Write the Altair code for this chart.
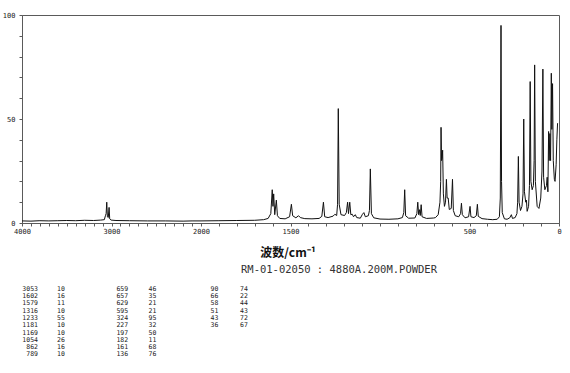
import json
import altair as alt
import pandas as pd

# Raman spectrum trace: Raman shift (cm^-1) and relative intensity
wavenumber = [
    4000, 3900, 3800, 3700, 3600, 3500, 3400, 3300, 3200, 3120, 3080, 3068, 3060, 3053, 3046,
    3036, 3027, 3020, 3005, 2950, 2800, 2600, 2400, 2200, 2100, 2000, 1900, 1800, 1700, 1650,
    1625, 1610, 1602, 1598, 1594, 1588, 1579, 1573, 1560, 1530, 1505, 1495, 1488, 1470, 1455,
    1445, 1420, 1380, 1340, 1325, 1316, 1309, 1290, 1262, 1252, 1242, 1237, 1233, 1228, 1218,
    1198, 1188, 1181, 1176, 1169, 1163, 1155, 1148, 1138, 1130, 1110, 1098, 1090, 1082, 1065,
    1059, 1054, 1048, 1035, 1000, 950, 900, 875, 867, 862, 857, 840, 805, 794, 789,
    784, 779, 775, 770, 765, 740, 700, 690, 675, 665, 661, 659, 656, 653, 650,
    646, 640, 634, 629, 625, 619, 613, 602, 595, 590, 580, 560, 550, 545, 540,
    525, 505, 497, 492, 475, 462, 456, 451, 430, 400, 370, 345, 333, 328, 324,
    321, 317, 305, 290, 275, 266, 260, 245, 235, 231, 227, 223, 215, 207, 201,
    197, 193, 186, 182, 178, 170, 165, 161, 157, 150, 143, 139, 136, 132, 122,
    112, 102, 95, 90, 86, 79, 70, 66, 62, 58, 55, 51, 47, 43, 40,
    36, 32, 26, 22, 16, 12, 8,
]
intensity = [
    1.0, 0.9, 1.1, 1.0, 1.1, 1.2, 1.1, 1.3, 1.2, 1.4, 1.6, 3.5, 4.5, 10.0, 3.0,
    2.6, 7.5, 2.0, 1.4, 1.2, 1.1, 1.0, 1.0, 0.9, 1.0, 1.0, 1.1, 1.2, 1.3, 1.6,
    2.2, 4.5, 16.0, 8.0, 14.0, 4.0, 11.0, 3.5, 2.2, 2.0, 3.0, 9.0, 3.5, 2.5, 3.5,
    2.6, 2.1, 2.0, 2.2, 3.2, 10.0, 3.0, 2.6, 3.3, 4.2, 3.6, 9.0, 55.0, 9.0, 4.0,
    3.6, 5.0, 10.0, 4.5, 10.0, 4.0, 4.2, 3.0, 4.0, 2.6, 2.3, 4.2, 5.0, 3.0, 3.5,
    6.0, 26.0, 4.5, 2.5, 1.9, 1.8, 2.0, 2.6, 5.0, 16.0, 3.5, 2.3, 2.4, 4.5, 10.0,
    4.0, 6.4, 3.6, 8.8, 3.0, 2.2, 2.4, 2.6, 4.0, 10.0, 20.0, 46.0, 30.0, 31.0, 35.0,
    14.0, 8.0, 10.0, 21.0, 12.0, 12.0, 6.5, 7.0, 21.0, 6.0, 3.5, 3.0, 4.5, 9.5, 4.0,
    2.5, 3.0, 8.0, 3.0, 2.6, 3.5, 9.0, 3.2, 2.1, 1.8, 1.6, 1.8, 3.0, 12.0, 95.0,
    20.0, 5.0, 2.0, 1.8, 2.5, 4.0, 2.2, 2.6, 4.5, 10.0, 32.0, 10.0, 6.0, 8.0, 14.0,
    50.0, 15.0, 10.0, 11.0, 5.6, 8.0, 18.0, 68.0, 20.0, 16.0, 18.0, 30.0, 76.0, 20.0, 8.0,
    7.0, 12.0, 25.0, 74.0, 22.0, 16.0, 18.0, 22.0, 15.0, 44.0, 30.0, 43.0, 30.0, 72.0, 45.0,
    67.0, 30.0, 21.0, 20.0, 28.0, 40.0, 48.0,
]

# Peak list printed under the spectrum
peak_wavenumber = [3053, 1602, 1579, 1316, 1233, 1181, 1169, 1054, 862, 789,
                   659, 657, 629, 595, 324, 227, 197, 182, 161, 136,
                   90, 66, 58, 51, 43, 36]
peak_intensity = [10, 16, 11, 10, 55, 10, 10, 26, 16, 10,
                  46, 35, 21, 21, 95, 32, 50, 11, 68, 76,
                  74, 22, 44, 43, 72, 67]

x_tick_labels = [4000, 3000, 2000, 1500, 500, 0]
y_tick_labels = [0, 50, 100]
x_title = "波数/cm⁻¹"
sample_caption = "RM-01-02050 : 4880A.200M.POWDER"

W, H = 537, 208
axis_color = "#5a5a5a"
text_color = "#222222"
mono = "DejaVu Sans Mono"

spectrum = pd.DataFrame({"wn": wavenumber, "I": intensity})
peaks = pd.DataFrame({
    "wn": [str(v) for v in peak_wavenumber],
    "I": [str(v) for v in peak_intensity],
    "idx": list(range(len(peak_wavenumber))),
})

x_axis = alt.Axis(
    values=list(range(0, 4001, 100)),
    format="d",
    labelExpr=f"indexof({json.dumps(x_tick_labels)}, datum.value) >= 0 ? datum.label : ''",
    labelOverlap=False,
    labelFlush=False,
    labelFont=mono,
    labelFontSize=7,
    labelColor=text_color,
    labelPadding=1,
    tickSize=3,
    tickColor=axis_color,
    domainColor=axis_color,
    grid=False,
    title=None,
)
y_axis = alt.Axis(
    values=list(range(0, 101, 10)),
    format="d",
    labelExpr=f"indexof({json.dumps(y_tick_labels)}, datum.value) >= 0 ? datum.label : ''",
    labelOverlap=False,
    labelFlush=False,
    labelFont=mono,
    labelFontSize=7,
    labelColor=text_color,
    labelPadding=4,
    tickSize=3,
    tickColor=axis_color,
    domainColor=axis_color,
    grid=False,
    title=None,
)

# 4000-2000 cm^-1 is drawn at half the scale of 2000-0 cm^-1
line = alt.Chart(spectrum).mark_line(color="#111111", strokeWidth=1, interpolate="linear").encode(
    x=alt.X("wn:Q", scale=alt.Scale(domain=[4000, 2000, 0], range=[0, W / 3, W], zero=False, nice=False), axis=x_axis),
    y=alt.Y("I:Q", scale=alt.Scale(domain=[0, 100], zero=False, nice=False), axis=y_axis),
    order=alt.Order("wn:Q", sort="descending"),
)

title_text = alt.Chart(pd.DataFrame({"t": [x_title]})).mark_text(
    font="Noto Sans CJK SC", fontSize=12, fontWeight="bold", color="#111111",
    align="center", baseline="middle",
).encode(x=alt.value(266), y=alt.value(238), text="t:N")

caption_text = alt.Chart(pd.DataFrame({"t": [sample_caption]})).mark_text(
    font=mono, fontSize=10.5, color="#333333", align="center", baseline="middle",
).encode(x=alt.value(317), y=alt.value(255), text="t:N")

table_base = alt.Chart(peaks).transform_calculate(
    col="floor(datum.idx / 10)",
    row="datum.idx % 10",
).transform_calculate(
    wx="16 + datum.col * 90.2",
    ix="35 + datum.col * 91.5",
    ty="273.7 + datum.row * 7.3",
)

table_wn = table_base.mark_text(
    font=mono, fontSize=6.5, color=text_color, align="right", baseline="middle",
).encode(
    x=alt.X("wx:Q", scale=None, axis=None),
    y=alt.Y("ty:Q", scale=None, axis=None),
    text="wn:N",
)
table_int = table_base.mark_text(
    font=mono, fontSize=6.5, color=text_color, align="left", baseline="middle",
).encode(
    x=alt.X("ix:Q", scale=None, axis=None),
    y=alt.Y("ty:Q", scale=None, axis=None),
    text="I:N",
)

chart = alt.layer(line, title_text, caption_text, table_wn, table_int).resolve_scale(
    x="independent", y="independent"
).properties(
    width=W,
    height=H,
    autosize=alt.AutoSizeParams(type="none"),
    padding={"left": 22, "top": 15, "right": 11, "bottom": 150},
    background="white",
).configure_view(stroke=axis_color, strokeWidth=1)

chart.save("out.html", embed_options={"renderer": "svg", "actions": False})
